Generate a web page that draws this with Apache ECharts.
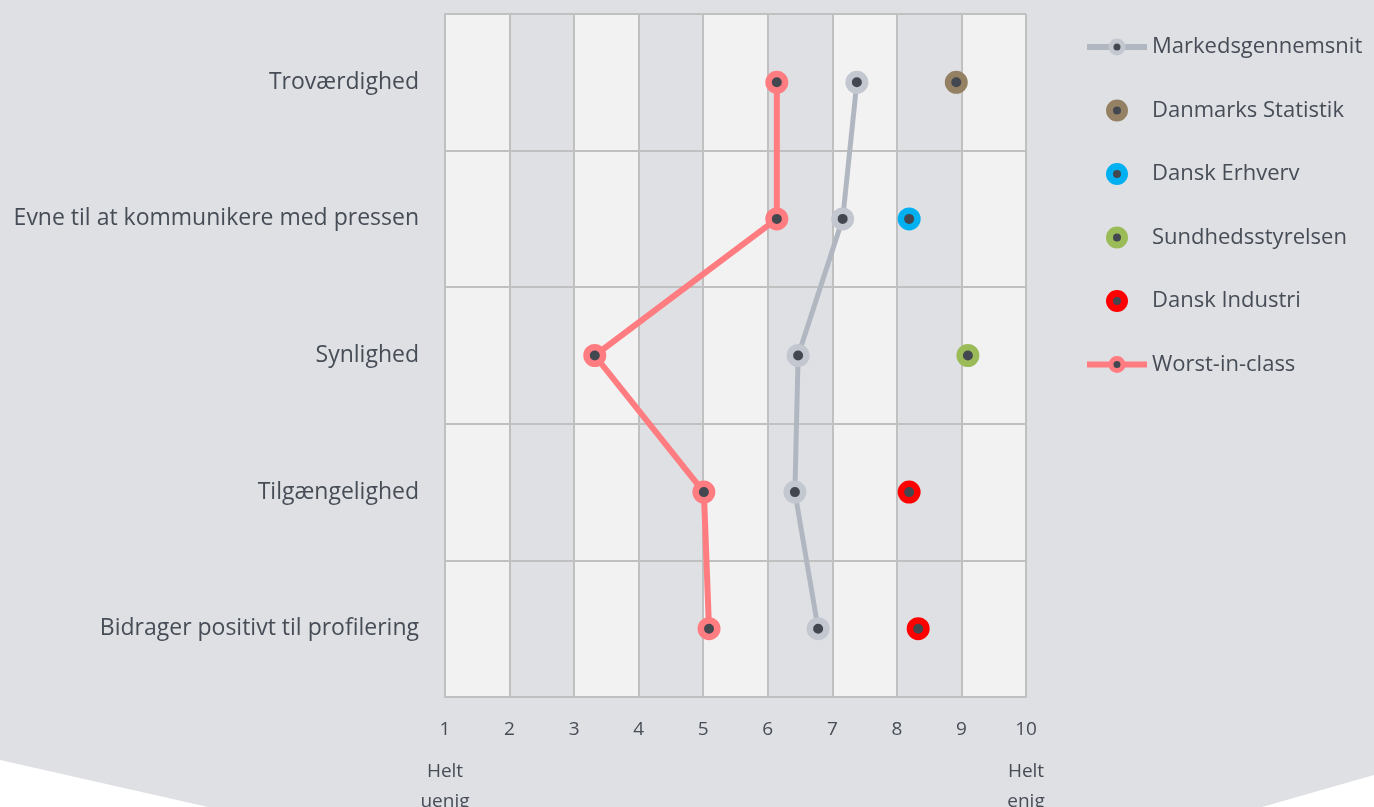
<!DOCTYPE html>
<html>
<head>
<meta charset="utf-8">
<script src="https://cdn.jsdelivr.net/npm/echarts@6/dist/echarts.min.js"></script>
<style>
html,body{margin:0;padding:0;background:#ffffff;width:1374px;height:807px;overflow:hidden;}
#bg{position:absolute;left:0;top:0;width:1374px;height:807px;background:#dfe0e4;
clip-path:polygon(0 0,1374px 0,1374px 775px,1262px 807px,208px 807px,0 760px);}
#chart{position:absolute;left:0;top:0;width:1374px;height:807px;}
</style>
</head>
<body>
<div id="bg"></div>
<div id="chart"></div>
<script>
const categories = ['Troværdighed','Evne til at kommunikere med pressen','Synlighed','Tilgængelighed','Bidrager positivt til profilering'];
const markedsgennemsnit = [7.38, 7.16, 6.47, 6.42, 6.78];
const worstInClass = [6.14, 6.14, 3.32, 5.01, 5.09];
const danmarksStatistik = [8.92, null, null, null, null];
const danskErhverv = [null, 8.19, null, null, null];
const sundhedsstyrelsen = [null, null, 9.10, null, null];
const danskIndustri = [null, null, null, 8.19, 8.33];
const xTicks = [1,2,3,4,5,6,7,8,9,10];
const endLabels = {1:'Helt\nuenig', 10:'Helt\nenig'};

const textColor = '#474d57';
const fontFamily = '"Open Sans", "Noto Sans", sans-serif';
const dotColor = '#434750';
const colors = {
  'Markedsgennemsnit':'#c3c7cf',
  'Danmarks Statistik':'#948163',
  'Dansk Erhverv':'#00b0f0',
  'Sundhedsstyrelsen':'#9bbb59',
  'Dansk Industri':'#ff0000',
  'Worst-in-class':'#ff7c80'
};
const lineColors = {'Markedsgennemsnit':'#b1b7c1', 'Worst-in-class':'#ff7c80'};

function pairs(arr){
  const out = [];
  arr.forEach((v,i)=>{ if(v!==null) out.push([v, categories[i]]); });
  return out;
}
function scatterSeries(name, arr){
  return {
    name, type:'scatter', xAxisIndex:0, yAxisIndex:0,
    data: pairs(arr),
    symbol:'circle', symbolSize:16.5,
    itemStyle:{color:dotColor, borderColor:colors[name], borderWidth:6.5, opacity:1},
    z:5
  };
}
const legendNames = ['Markedsgennemsnit','Danmarks Statistik','Dansk Erhverv','Sundhedsstyrelsen','Dansk Industri','Worst-in-class'];

const chart = echarts.init(document.getElementById('chart'), null, {renderer:'canvas'});
chart.setOption({
  backgroundColor:'transparent',
  animation:false,
  textStyle:{fontFamily},
  grid:{left:445, right:348, top:14, bottom:110, containLabel:false, outerBoundsMode:'none'},
  legend:{
    orient:'vertical', left:1084, top:35, padding:0,
    itemWidth:60, itemHeight:15, itemGap:39.5,
    textStyle:{color:textColor, fontSize:22, lineHeight:24, fontFamily},
    data: legendNames.map(n=>{
      const item = {name:n, itemStyle:{color:dotColor, borderColor:colors[n], borderWidth:lineColors[n]?5:7}};
      if(lineColors[n]) item.lineStyle = {color:lineColors[n], width:6};
      return item;
    })
  },
  xAxis:[{
    type:'value', min:1, max:10, interval:1, position:'bottom', z:0,
    axisLine:{show:true, lineStyle:{color:'#c0c0c0', width:2}},
    axisTick:{show:false},
    axisLabel:{color:textColor, fontSize:19, margin:23, fontFamily,
      formatter:v=> xTicks.includes(v) ? String(v) : ''},
    splitLine:{show:true, lineStyle:{color:'#c0c0c0', width:2}},
    splitArea:{show:true, areaStyle:{color:['#f2f2f2','#dfe0e4']}}
  },{
    type:'value', min:1, max:10, interval:1, position:'bottom', z:0,
    axisLine:{show:false}, axisTick:{show:false}, splitLine:{show:false},
    axisLabel:{color:textColor, fontSize:19, margin:60, lineHeight:30, fontFamily,
      formatter:v=> endLabels[v] || ''}
  }],
  yAxis:{
    type:'category', data:categories, inverse:true, z:1,
    axisLine:{show:true, lineStyle:{color:'#c0c0c0', width:2}},
    axisTick:{show:false},
    axisLabel:{color:textColor, fontSize:23, margin:26, fontFamily},
    splitLine:{show:true, lineStyle:{color:'#c0c0c0', width:2}}
  },
  series:[
    {
      name:'Markedsgennemsnit', type:'line', data:markedsgennemsnit,
      symbol:'circle', symbolSize:16.5, showSymbol:true,
      lineStyle:{color:lineColors['Markedsgennemsnit'], width:5},
      itemStyle:{color:dotColor, borderColor:colors['Markedsgennemsnit'], borderWidth:6.5},
      z:3
    },
    scatterSeries('Danmarks Statistik', danmarksStatistik),
    scatterSeries('Dansk Erhverv', danskErhverv),
    scatterSeries('Sundhedsstyrelsen', sundhedsstyrelsen),
    scatterSeries('Dansk Industri', danskIndustri),
    {
      name:'Worst-in-class', type:'line', data:worstInClass,
      symbol:'circle', symbolSize:16.5, showSymbol:true,
      lineStyle:{color:lineColors['Worst-in-class'], width:6},
      itemStyle:{color:dotColor, borderColor:colors['Worst-in-class'], borderWidth:6.5},
      z:4
    }
  ]
});
</script>
</body>
</html>
